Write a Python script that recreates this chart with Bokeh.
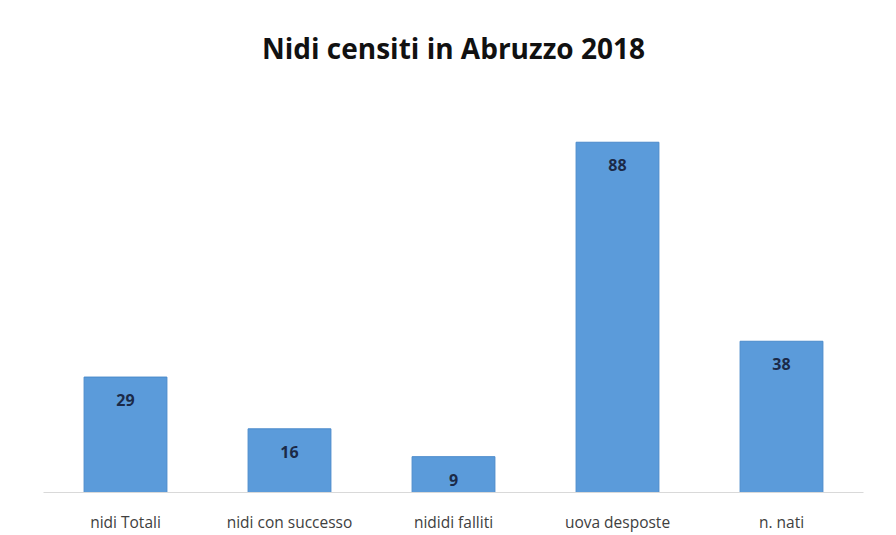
from bokeh.plotting import figure
from bokeh.models import ColumnDataSource, Title
from bokeh.core.properties import value
from bokeh.embed import file_html
from bokeh.resources import INLINE

categories = ["nidi Totali", "nidi con successo", "nididi falliti", "uova desposte", "n. nati"]
values = [29, 16, 9, 88, 38]
labels = [str(v) for v in values]

src = ColumnDataSource(dict(cat=categories, val=values, lab=labels))

p = figure(x_range=categories, y_range=(0, 101), width=896, height=535,
           output_backend="svg", toolbar_location=None,
           min_border_left=43, min_border_right=33, min_border_top=90, min_border_bottom=43)
p.title = None
t = Title(text="Nidi censiti in Abruzzo 2018", align="center", text_font="Open Sans",
          text_font_size="28px", text_font_style="bold", text_color="#111111", standoff=47,
          offset=-6)
p.add_layout(t, "above")

p.vbar(x="cat", top="val", width=0.505, source=src, fill_color="#5B9BDA",
       line_color="#4A8ACB", line_width=1)
p.text(x="cat", y="val", text="lab", source=src, text_align="center", text_baseline="middle",
       y_offset=23, text_font=value("Open Sans"), text_font_size="16px",
       text_font_style="bold", text_color="#1B2A48")

p.yaxis.visible = False
p.xgrid.visible = False
p.ygrid.visible = False
p.outline_line_color = None
p.xaxis.axis_line_color = "#D9D9D9"
p.xaxis.major_tick_line_color = None
p.xaxis.minor_tick_line_color = None
p.xaxis.major_label_text_font = "Open Sans"
p.xaxis.major_label_text_font_size = "15.5px"
p.xaxis.major_label_text_color = "#404040"
p.xaxis.major_label_standoff = 12
p.x_range.range_padding = 0

open("out.html", "w").write(file_html(p, INLINE))
